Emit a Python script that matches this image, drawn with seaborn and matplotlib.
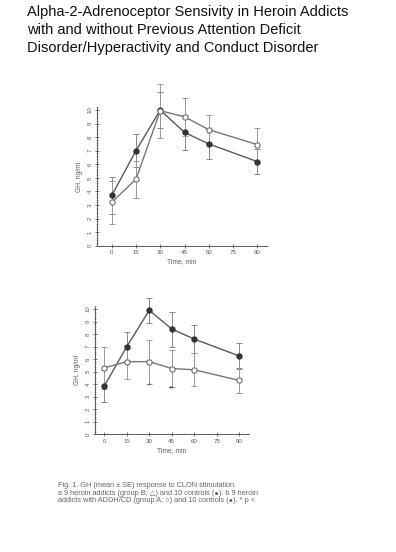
import matplotlib
matplotlib.use("Agg")
import matplotlib.pyplot as plt
import seaborn as sns
import pandas as pd
import numpy as np
from matplotlib.ticker import MultipleLocator

sns.set_theme(style="white")
plt.rcParams['font.family'] = ['Liberation Sans', 'DejaVu Sans']

time = [0, 15, 30, 45, 60, 90]
xticks = [0, 15, 30, 45, 60, 75, 90]
yticks = [0, 1, 2, 3, 4, 5, 6, 7, 8, 9, 10]

# panel a
a_controls = [3.7, 7.0, 10.0, 8.35, 7.5, 6.2]
a_controls_se = [1.4, 1.2, 1.35, 1.3, 1.1, 0.95]
a_groupB = [3.2, 4.9, 9.95, 9.5, 8.55, 7.45]
a_groupB_se = [1.6, 1.35, 2.0, 1.4, 1.1, 1.25]

# panel b
b_controls = [3.85, 7.0, 9.9, 8.4, 7.6, 6.25]
b_controls_se = [1.3, 1.2, 1.0, 1.4, 1.15, 1.0]
b_groupA = [5.3, 5.8, 5.8, 5.25, 5.15, 4.3]
b_groupA_se = [1.7, 1.35, 1.75, 1.45, 1.3, 1.0]

title = ("Alpha-2-Adrenoceptor Sensivity in Heroin Addicts\n"
         "with and without Previous Attention Deficit\n"
         "Disorder/Hyperactivity and Conduct Disorder")
caption = ("Fig. 1. GH (mean \u00b1 SE) response to CLON stimulation.\n"
           "a 9 heroin addicts (group B; \u25b3) and 10 controls (\u25cf). b 9 heroin\n"
           "addicts with ADDH/CD (group A; \u25cb) and 10 controls (\u25cf). * p <")

INK = "#5a5a5a"

fig = plt.figure(figsize=(3.96, 5.52), dpi=100)
fig.text(27/396, 1 - 5/552, title, ha="left", va="top", fontsize=10.5,
         color="#111111", linespacing=1.38)

def panel(rect, xlim, ctrl, ctrl_se, grp, grp_se, stars=None):
    ax = fig.add_axes(rect)
    df = pd.DataFrame({"time": time * 2,
                       "gh": ctrl + grp,
                       "group": ["controls"] * 6 + ["addicts"] * 6})
    ax.errorbar(time, ctrl, yerr=ctrl_se, fmt="none", ecolor="#888888",
                elinewidth=0.7, capsize=2, capthick=0.7, clip_on=False)
    ax.errorbar(time, grp, yerr=grp_se, fmt="none", ecolor="#999999",
                elinewidth=0.7, capsize=2, capthick=0.7, clip_on=False)
    sns.lineplot(data=df, x="time", y="gh", hue="group", style="group",
                 palette={"controls": INK, "addicts": "#777777"},
                 markers={"controls": "o", "addicts": "o"}, dashes=False,
                 markersize=3.8, linewidth=1.0, legend=False, ax=ax,
                 clip_on=False)
    for ln in ax.lines:
        if ln.get_color() == "#777777":
            ln.set_markerfacecolor("white")
            ln.set_markeredgecolor("#666666")
        elif ln.get_color() == INK:
            ln.set_markerfacecolor("#333333")
            ln.set_markeredgecolor("#333333")
    ax.set_xlim(*xlim)
    ax.set_ylim(0, 10.2)
    ax.set_xticks(xticks)
    ax.set_yticks(yticks)
    ax.set_yticklabels([str(v) for v in yticks], rotation=90, va="center")
    ax.yaxis.set_minor_locator(MultipleLocator(0.2))
    ax.tick_params(axis="both", which="major", labelsize=4.4, colors=INK,
                   length=2.5, width=0.6, direction="inout", pad=2)
    ax.tick_params(axis="y", which="minor", length=2.0, width=0.5,
                   color="#888888", direction="inout", left=True)
    ax.tick_params(axis="x", which="major", bottom=True)
    ax.tick_params(axis="y", which="major", left=True)
    for s in ["top", "right"]:
        ax.spines[s].set_visible(False)
    for s in ["left", "bottom"]:
        ax.spines[s].set_color(INK)
        ax.spines[s].set_linewidth(0.7)
    ax.set_facecolor("none")
    ax.set_xlabel("Time, min", fontsize=4.8, color=INK, labelpad=2)
    ax.set_ylabel("GH, ng/ml", fontsize=4.8, color=INK, labelpad=3)
    if stars:
        for sx, sy, st in stars:
            ax.text(sx, sy, st, fontsize=5, color="#333333", ha="center",
                    va="center")
    return ax

panel([97/396, 1 - 245.7/552, 170/396, (245.7 - 107.3)/552], (-9.1, 96),
      a_controls, a_controls_se, a_groupB, a_groupB_se)
panel([95/396, 1 - 434.3/552, 154/396, (434.3 - 306.5)/552], (-6.2, 96.5),
      b_controls, b_controls_se, b_groupA, b_groupA_se,
      stars=[(30, 3.85, "*"), (45, 3.65, "**")])

fig.text(58/396, 1 - 482/552, caption, ha="left", va="top", fontsize=5.3,
         color="#666666", linespacing=1.12)

fig.savefig("out.png", dpi=100)
